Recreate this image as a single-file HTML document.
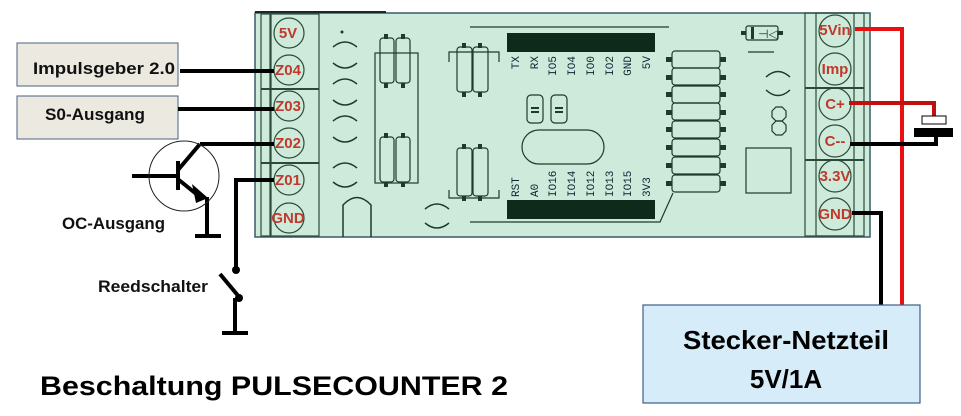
<!DOCTYPE html>
<html><head><meta charset="utf-8"><style>
html,body{margin:0;padding:0;background:#fff;width:961px;height:416px;overflow:hidden}
svg{display:block}
.t{font-family:"Liberation Sans",sans-serif;font-weight:bold}
.m{font-family:"Liberation Mono",monospace;font-size:11px;fill:#123}
.r{font-family:"Liberation Sans",sans-serif;font-weight:bold;fill:#c0392b;font-size:15px}
</style></head><body>
<svg width="961" height="416" viewBox="0 0 961 416" xmlns="http://www.w3.org/2000/svg">
<rect x="255" y="13" width="615" height="224" fill="#cdeadb" stroke="#3a5a6a" stroke-width="1.5"/>
<line x1="255" y1="12" x2="386" y2="12" stroke="#1a2a2a" stroke-width="2"/>
<g stroke="#2c4a3a" stroke-width="1.2" fill="none">
<rect x="261" y="14" width="9" height="222"/>
<rect x="271" y="14" width="48" height="222"/>
<line x1="261" y1="89" x2="319" y2="89" stroke-width="2"/>
<line x1="261" y1="163" x2="319" y2="163" stroke-width="2"/>
<circle cx="289" cy="33" r="15"/><circle cx="289" cy="70" r="15"/><circle cx="289" cy="106" r="15"/>
<circle cx="289" cy="143" r="15"/><circle cx="289" cy="180" r="15"/><circle cx="289" cy="218" r="15"/>
</g>
<text class="r" x="288" y="38" text-anchor="middle">5V</text>
<text class="r" x="288" y="75" text-anchor="middle">Z04</text>
<text class="r" x="288" y="111" text-anchor="middle">Z03</text>
<text class="r" x="288" y="148" text-anchor="middle">Z02</text>
<text class="r" x="288" y="185" text-anchor="middle">Z01</text>
<text class="r" x="288" y="223" text-anchor="middle">GND</text>
<g stroke="#1f3a2a" stroke-width="1.5" fill="none">
<path d="M333 47 Q345 37 357 47"/><path d="M333 63 Q345 73 357 63"/>
<path d="M333 84 Q345 74 357 84"/><path d="M333 100 Q345 110 357 100"/>
<path d="M333 121 Q345 111 357 121"/><path d="M333 137 Q345 147 357 137"/>
<path d="M333 168 Q345 158 357 168"/><path d="M333 182 Q345 192 357 182"/>
<path d="M425 209 Q437 199 449 209"/><path d="M425 223 Q437 233 449 223"/>
<path d="M766 77 Q778 66 790 77"/><path d="M766 90 Q778 101 790 90"/>
<path d="M343 237 L343 205 Q357 190 371 205 L371 237"/>
</g>
<circle cx="342" cy="32" r="1.5" fill="#1f3a2a"/>
<g stroke="#1f3a2a" stroke-width="1.2" fill="none">
<rect x="375" y="53" width="43" height="130"/>
<rect x="380" y="38" width="14" height="45" rx="3"/><rect x="396" y="38" width="14" height="45" rx="3"/>
<rect x="380" y="137" width="14" height="45" rx="3"/><rect x="396" y="137" width="14" height="45" rx="3"/>
<rect x="457" y="47" width="15" height="45" rx="3"/><rect x="473" y="47" width="15" height="45" rx="3"/>
<rect x="457" y="148" width="15" height="48" rx="3"/><rect x="473" y="148" width="15" height="48" rx="3"/>
<path d="M449 62 V52 H499 V62"/><path d="M449 190 V198 H499 V190"/>
<rect x="527" y="95" width="16" height="28" rx="4"/><rect x="551" y="95" width="16" height="28" rx="4"/>
<rect x="522" y="130" width="82" height="34" rx="17"/>
<path d="M470 27 H669"/><path d="M470 222 H660 L673 193"/>
<rect x="746" y="148" width="45" height="45"/>
<path d="M772 111 l4 -4 h6 l4 4 v6 l-4 4 h-6 l-4 -4z"/><path d="M772 125 l4 -4 h6 l4 4 v6 l-4 4 h-6 l-4 -4z"/>
<rect x="746" y="26" width="32" height="14" rx="2"/><path d="M748 52 H774"/>
</g>
<g fill="#1f3a2a">
<rect x="384" y="34" width="4" height="5"/><rect x="401" y="34" width="4" height="5"/><rect x="384" y="83" width="4" height="5"/><rect x="401" y="83" width="4" height="5"/>
<rect x="384" y="133" width="4" height="5"/><rect x="401" y="133" width="4" height="5"/><rect x="384" y="182" width="4" height="5"/><rect x="401" y="182" width="4" height="5"/>
<rect x="462" y="43" width="4" height="5"/><rect x="478" y="43" width="4" height="5"/><rect x="462" y="92" width="4" height="5"/><rect x="478" y="92" width="4" height="5"/>
<rect x="462" y="144" width="4" height="5"/><rect x="478" y="144" width="4" height="5"/><rect x="462" y="196" width="4" height="5"/><rect x="478" y="196" width="4" height="5"/>
<rect x="531" y="107" width="8" height="2"/><rect x="531" y="111" width="8" height="2"/><rect x="555" y="107" width="8" height="2"/><rect x="555" y="111" width="8" height="2"/>
<rect x="507" y="33" width="148" height="19" fill="#0d2a1a"/>
<rect x="507" y="200" width="148" height="19" fill="#0d2a1a"/>
<rect x="741" y="31" width="5" height="4"/><rect x="778" y="31" width="5" height="4"/><rect x="751" y="27" width="3" height="12"/>
</g>
<text x="768" y="38" font-size="12" fill="#1f3a2a" text-anchor="middle" font-family="Liberation Sans">⊣◁</text>
<g stroke="#1f3a2a" stroke-width="1.2" fill="none">
<rect x="672" y="51" width="48" height="17" rx="3"/><rect x="672" y="68" width="48" height="17" rx="3"/>
<rect x="672" y="86" width="48" height="17" rx="3"/><rect x="672" y="103" width="48" height="17" rx="3"/>
<rect x="672" y="121" width="48" height="17" rx="3"/><rect x="672" y="139" width="48" height="17" rx="3"/>
<rect x="672" y="157" width="48" height="17" rx="3"/><rect x="672" y="175" width="48" height="17" rx="3"/>
</g>
<g fill="#1f3a2a">
<rect x="666" y="57" width="6" height="5"/><rect x="720" y="57" width="6" height="5"/><rect x="666" y="75" width="6" height="5"/><rect x="720" y="75" width="6" height="5"/>
<rect x="666" y="92" width="6" height="5"/><rect x="720" y="92" width="6" height="5"/><rect x="666" y="110" width="6" height="5"/><rect x="720" y="110" width="6" height="5"/>
<rect x="666" y="127" width="6" height="5"/><rect x="720" y="127" width="6" height="5"/><rect x="666" y="145" width="6" height="5"/><rect x="720" y="145" width="6" height="5"/>
<rect x="666" y="163" width="6" height="5"/><rect x="720" y="163" width="6" height="5"/><rect x="666" y="181" width="6" height="5"/><rect x="720" y="181" width="6" height="5"/>
</g>
<g class="m">
<text transform="translate(519,56) rotate(-90)" text-anchor="end">TX</text>
<text transform="translate(538,56) rotate(-90)" text-anchor="end">RX</text>
<text transform="translate(556,56) rotate(-90)" text-anchor="end">IO5</text>
<text transform="translate(575,56) rotate(-90)" text-anchor="end">IO4</text>
<text transform="translate(594,56) rotate(-90)" text-anchor="end">IO0</text>
<text transform="translate(613,56) rotate(-90)" text-anchor="end">IO2</text>
<text transform="translate(631,56) rotate(-90)" text-anchor="end">GND</text>
<text transform="translate(650,56) rotate(-90)" text-anchor="end">5V</text>
<text transform="translate(519,197) rotate(-90)">RST</text>
<text transform="translate(538,197) rotate(-90)">A0</text>
<text transform="translate(556,197) rotate(-90)">IO16</text>
<text transform="translate(575,197) rotate(-90)">IO14</text>
<text transform="translate(594,197) rotate(-90)">IO12</text>
<text transform="translate(613,197) rotate(-90)">IO13</text>
<text transform="translate(631,197) rotate(-90)">IO15</text>
<text transform="translate(650,197) rotate(-90)">3V3</text>
</g>
<g stroke="#2c4a3a" stroke-width="1.2" fill="none">
<rect x="805" y="13" width="59" height="223"/>
<rect x="816" y="13" width="38" height="223"/>
<line x1="805" y1="88" x2="864" y2="88" stroke-width="2"/>
<line x1="805" y1="160" x2="864" y2="160" stroke-width="2"/>
<circle cx="835" cy="31" r="16"/><circle cx="835" cy="69" r="16"/><circle cx="835" cy="104" r="16"/>
<circle cx="835" cy="141" r="16"/><circle cx="835" cy="176" r="16"/><circle cx="835" cy="214" r="16"/>
</g>
<text class="r" x="835" y="35" text-anchor="middle">5Vin</text>
<text class="r" x="835" y="74" text-anchor="middle">Imp</text>
<text class="r" x="835" y="109" text-anchor="middle">C+</text>
<text class="r" x="835" y="146" text-anchor="middle">C--</text>
<text class="r" x="835" y="181" text-anchor="middle">3.3V</text>
<text class="r" x="835" y="219" text-anchor="middle">GND</text>
<g stroke-width="4" fill="none">
<path d="M855 29 H902 V305" stroke="#e81010"/>
<path d="M849 103 H934 V116" stroke="#c01010"/>
<path d="M850 144 H936 V132" stroke="#000"/>
<path d="M852 213 H881 V305" stroke="#000"/>
</g>
<rect x="922" y="116" width="24" height="8" fill="#fff" stroke="#000"/>
<rect x="914" y="128" width="39" height="9" fill="#000"/>
<rect x="643" y="305" width="277" height="98" fill="#d6ecf9" stroke="#3d5f8a" stroke-width="1.2"/>
<text class="t" x="786" y="349" font-size="26" text-anchor="middle" fill="#000" textLength="206" lengthAdjust="spacingAndGlyphs">Stecker-Netzteil</text>
<text class="t" x="786" y="388" font-size="26" text-anchor="middle" fill="#000">5V/1A</text>
<rect x="17" y="43" width="161" height="43" fill="#ebe9e0" stroke="#4a6280" stroke-width="1"/>
<text class="t" x="33" y="74" font-size="17" fill="#111" textLength="142" lengthAdjust="spacingAndGlyphs">Impulsgeber 2.0</text>
<rect x="17" y="96" width="161" height="43" fill="#ebe9e0" stroke="#4a6280" stroke-width="1"/>
<text class="t" x="45" y="120" font-size="17" fill="#111" textLength="100" lengthAdjust="spacingAndGlyphs">S0-Ausgang</text>
<g stroke="#000" stroke-width="4" fill="none">
<path d="M180 71 H274"/><path d="M178 109 H274"/>
<path d="M200 144 H274"/>
<path d="M200 144 L178 170"/>
<path d="M132 176 H180"/>
<path d="M178 161 V190"/>
<path d="M179 180 L200 197"/>
<path d="M207 197 V236"/><path d="M195 236 H221"/>
<path d="M274 180 H236 V268"/>
<path d="M220 274 L240 298"/>
<path d="M235 298 V333"/><path d="M222 333 H248"/>
</g>
<path d="M192 184 L208 198 L196 203 Z" fill="#000"/>
<circle cx="184" cy="176" r="35" fill="none" stroke="#222" stroke-width="1"/>
<circle cx="236" cy="270" r="4" fill="#000"/><circle cx="239" cy="298" r="4" fill="#000"/>
<text class="t" x="62" y="229" font-size="17" fill="#111" textLength="103" lengthAdjust="spacingAndGlyphs">OC-Ausgang</text>
<text class="t" x="98" y="292" font-size="17" fill="#111" textLength="110" lengthAdjust="spacingAndGlyphs">Reedschalter</text>
<text class="t" x="40" y="395" font-size="27" fill="#000" textLength="468" lengthAdjust="spacingAndGlyphs">Beschaltung PULSECOUNTER 2</text>
</svg>
</body></html>
